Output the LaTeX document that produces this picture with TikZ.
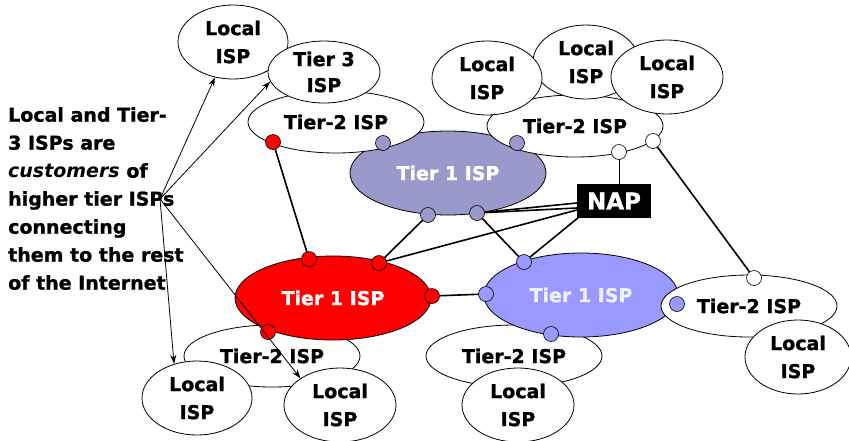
\documentclass[tikz,border=0pt]{standalone}
\usepackage{fontspec}
\setmainfont{DejaVu Sans}[BoldFeatures={FakeBold=1.2}]
\usetikzlibrary{arrows,arrows.meta,positioning,shapes.geometric,petri}
\definecolor{tgrey}{HTML}{9999CC}
\definecolor{tblue}{HTML}{9999FF}

\begin{document}
\begin{tikzpicture}[x=1pt,y=-1pt,>={Stealth[length=9pt,width=6pt]},
    font=\bfseries\fontsize{19}{27}\selectfont]
  \useasboundingbox (0,0) rectangle (849,440);
  \tikzset{
    localISP/.style={ellipse,draw=black,fill=white,line width=.8pt,minimum width=110,
      minimum height=74,inner sep=0,align=center,font=\bfseries\fontsize{19}{28}\selectfont},
    tierTwo/.style={ellipse,draw=black,fill=white,line width=.8pt,minimum width=176,
      minimum height=62,inner sep=0},
    tierOne/.style={ellipse,draw=black,line width=.8pt,minimum width=196,minimum height=84,
      inner sep=0,text=white},
    nap/.style={rectangle,fill=black,text=white,minimum width=74,minimum height=34,inner sep=0,
      font=\bfseries\fontsize{23}{23}\selectfont},
    % router styles
    router/.style={circle,draw=black,line width=.6pt,minimum size=15,inner sep=0},
    redR/.style={router,fill=red},
    greyR/.style={router,fill=tgrey},
    blueR/.style={router,fill=tblue},
    whiteR/.style={router,fill=white},
    % edge styles
    link/.style={line width=1.6pt},
    thinlink/.style={line width=.8pt},
    post/.style={->,line width=.8pt}
  }

  %% Tier 1 (top) and its Tier-2 customers
  \node [tierOne, fill=tgrey] (t1grey) at (448,173) {Tier 1 ISP};
  \node [tierTwo] (t2a) at (336,122) {Tier-2 ISP};
  \node [tierTwo] (t2b) at (575,126) {Tier-2 ISP};

  \node [localISP] (loc1) at (233,42) {Local\\ISP};
  \node [localISP, minimum width=112, minimum height=62,
    font=\bfseries\fontsize{19}{26}\selectfont] (tier3) at (324,72) {Tier 3\\ISP};
  \node [localISP, minimum width=106] (loc3) at (586,62) {Local\\ISP};
  \node [localISP] (loc2) at (487,78) {Local\\ISP};
  \node [localISP, minimum width=112] (loc4) at (667,77) {Local\\ISP};

  %% Tier 1 (bottom) and their Tier-2 customers
  \node [tierTwo] (t2c) at (272,356) {Tier-2 ISP};
  \node [tierTwo] (t2d) at (514,356) {Tier-2 ISP};
  \node [tierOne, fill=red] (t1red) at (333,298) {Tier 1 ISP};
  \node [tierOne, fill=tblue, minimum width=194, text=white!85!tblue] (t1blue) at (581,295) {Tier 1 ISP};
  \node [tierTwo] (t2e) at (749,306) {Tier-2 ISP};

  \node [localISP] (loc5) at (197,398) {Local\\ISP};
  \node [localISP, minimum width=112] (loc6) at (340,405) {Local\\ISP};
  \node [localISP, minimum width=112] (loc7) at (518,405) {Local\\ISP};
  \node [localISP, minimum width=106] (loc8) at (798,357) {Local\\ISP};

  \node [nap] (nap) at (614,201) {NAP};

  %% links
  \coordinate (rA) at (273,142);
  \coordinate (gA) at (383,143);
  \coordinate (gB) at (517,143);
  \coordinate (wA) at (619,152);
  \coordinate (wB) at (653,141);
  \coordinate (gC) at (428,215);
  \coordinate (gD) at (477,213);
  \coordinate (rB) at (309,259);
  \coordinate (rC) at (379,263);
  \coordinate (rD) at (432,296);
  \coordinate (bA) at (524,262);
  \coordinate (bB) at (486,294);
  \coordinate (bC) at (677,304);
  \coordinate (wC) at (754,278);
  \coordinate (bD) at (551,334);
  \coordinate (rE) at (268,332);

  \draw [link] (rA) -- (rB);
  \draw [link] (gC) -- (rC);
  \draw [link] (gD) -- (bA);
  \draw [link] (rD) -- (bB);
  \draw [link] (wB) -- (wC);
  \draw [link] ([yshift=-2]nap.west) -- (gD);
  \draw [link] ([yshift=-7]nap.west) -- (gD);
  \draw [link] ([yshift=-9]nap.west) -- (rC);
  \draw [link] ([xshift=2,yshift=1]nap.south west) -- (bA);
  \draw [thinlink] (nap.north -| wA) -- (wA);

  %% routers
  \node [redR] (rrA) at (rA) {};
  \node [greyR] (grA) at (gA) {};
  \node [greyR] (grB) at (gB) {};
  \node [whiteR] (wrA) at (wA) {};
  \node [whiteR] (wrB) at (wB) {};
  \node [greyR] (grC) at (gC) {};
  \node [greyR] (grD) at (gD) {};
  \node [redR] (rrB) at (rB) {};
  \node [redR] (rrC) at (rC) {};
  \node [redR] (rrD) at (rD) {};
  \node [blueR] (brA) at (bA) {};
  \node [blueR] (brB) at (bB) {};
  \node [blueR] (brC) at (bC) {};
  \node [whiteR] (wrC) at (wC) {};
  \node [blueR] (brD) at (bD) {};
  \node [redR] (rrE) at (rE) {};

  %% customers note
  \node [anchor=north west, align=left, inner sep=0,
    font=\bfseries\fontsize{19}{28}\selectfont] (note) at (8,107)
    {Local and Tier-\\3 ISPs are\\\textit{customers} of\\higher tier ISPs\\connecting\\them to the rest\\of the Internet};

  \coordinate (src) at (160,199);
  \draw [post] (src) -- (loc1.243);
  \draw [post] (src) -- (tier3.190);
  \draw [post] (src) -- (loc5.124);
  \draw [post] (src) -- (loc6.146);
\end{tikzpicture}
\end{document}
